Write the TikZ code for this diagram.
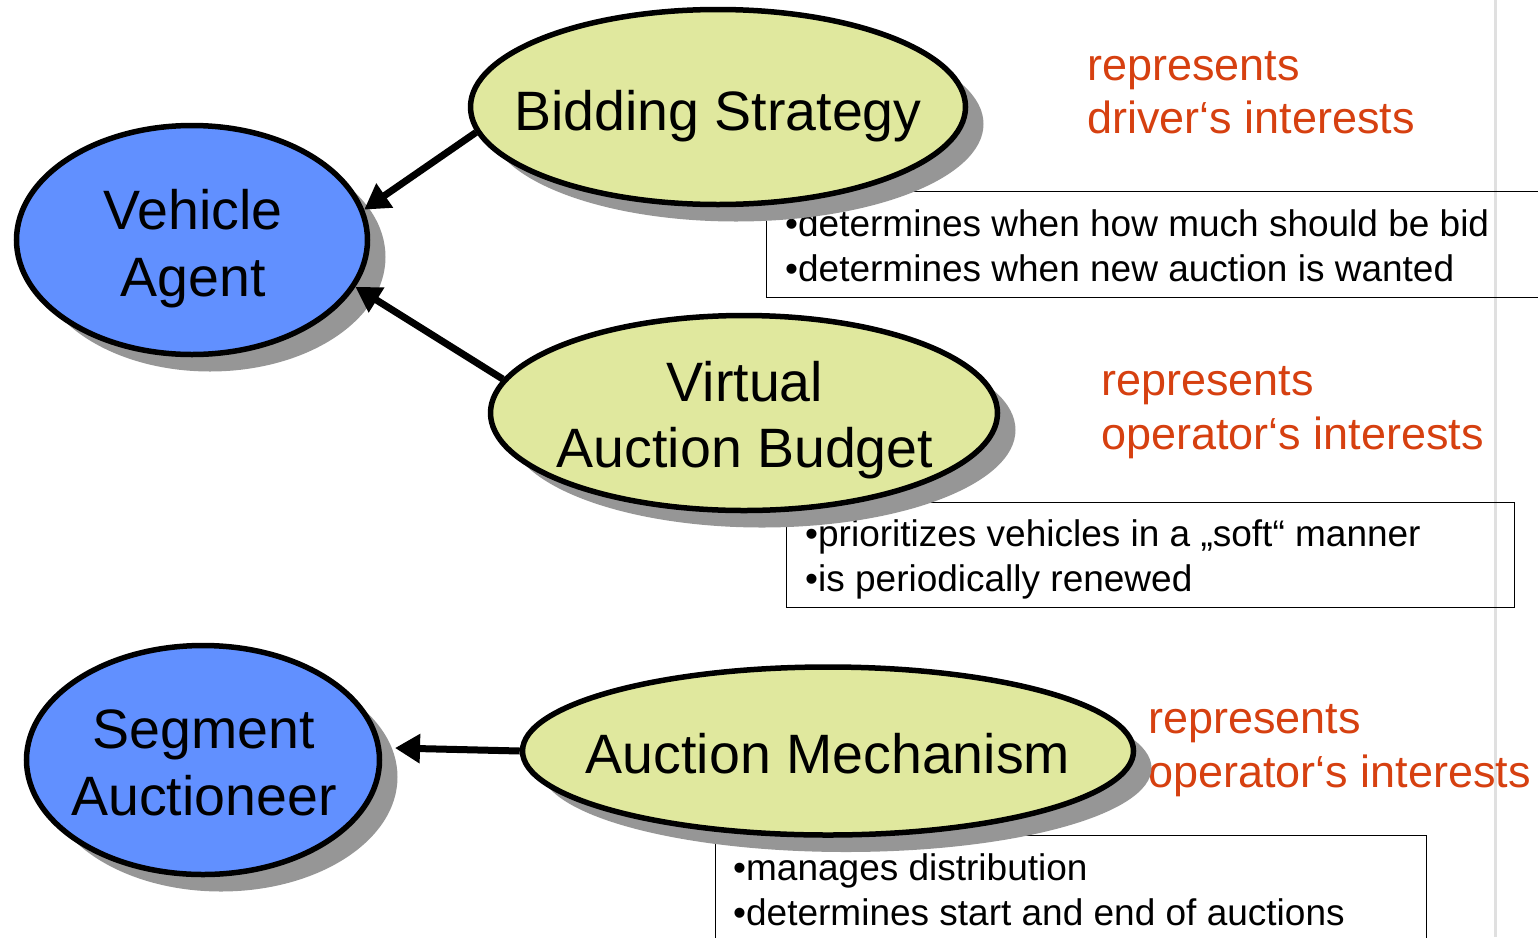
\documentclass[tikz,border=0pt]{standalone}
\usepackage{fontspec}
\setmainfont{Liberation Sans}
\usetikzlibrary{shapes.geometric,arrows.meta,shadows}
\definecolor{agentblue}{RGB}{97,144,255}
\definecolor{roleyellow}{RGB}{224,232,158}
\definecolor{shadowgray}{RGB}{150,150,150}
\definecolor{notered}{RGB}{214,64,16}
\definecolor{railgray}{RGB}{224,224,224}
\begin{document}
\begin{tikzpicture}[x=1pt,y=-1pt,
  blob/.style={ellipse, draw=black, line width=5.5pt, inner sep=0pt,
    general shadow={fill=shadowgray, shadow xshift=18pt, shadow yshift=-17pt}},
  agent/.style={blob, fill=agentblue},
  role/.style={blob, fill=roleyellow},
  blobtext/.style={anchor=base, inner sep=0pt, font=\fontsize{55.5}{67}\selectfont},
  notebox/.style={draw=black, line width=1.3pt, inner sep=0pt, anchor=north west},
  noteline/.style={anchor=base west, inner sep=0pt, font=\fontsize{37}{45}\selectfont},
  remark/.style={anchor=base west, inner sep=0pt, text=notered, font=\fontsize{45}{54}\selectfont},
  link/.style={line width=7pt, -{Triangle[length=25pt,width=28pt]}}]
\useasboundingbox (0,0) rectangle (1538,937);

% thin separator rule on the right
\coordinate (railtop) at (1495,0);
\coordinate (railbot) at (1495,937);
\draw[railgray, line width=3pt] (railtop) -- (railbot);

% note boxes
\node[notebox, minimum width=780pt, minimum height=106pt] (box1) at (766,191) {};
\node[notebox, minimum width=728pt, minimum height=105pt] (box2) at (786,502) {};
\node[notebox, minimum width=711pt, minimum height=115pt] (box3) at (715,835) {};

\node[noteline] (n11) at (785,236) {•determines when how much should be bid};
\node[noteline] (n12) at (785,281) {•determines when new auction is wanted};
\node[noteline] (n21) at (805,546) {•prioritizes vehicles in a „soft“ manner};
\node[noteline] (n22) at (805,591) {•is periodically renewed};
\node[noteline] (n31) at (733,880) {•manages distribution};
\node[noteline] (n32) at (733,925) {•determines start and end of auctions};

% red remarks
\node[remark] (r11) at (1087,80) {represents};
\node[remark] (r12) at (1087,133) {driver‘s interests};
\node[remark] (r21) at (1101,395) {represents};
\node[remark] (r22) at (1101,449) {operator‘s interests};
\node[remark] (r31) at (1148,733) {represents};
\node[remark] (r32) at (1148,787) {operator‘s interests};

% ellipses
\node[role, minimum width=495pt, minimum height=195pt] (bid) at (718,107) {};
\node[agent, minimum width=351pt, minimum height=229pt] (veh) at (192,240) {};
\node[role, minimum width=507pt, minimum height=195pt] (vab) at (744,413) {};
\node[agent, minimum width=353pt, minimum height=229pt] (seg) at (203,760) {};
\node[role, minimum width=611pt, minimum height=168pt] (mech) at (828,751) {};

\node[blobtext] (bidt) at (718,130) {Bidding Strategy};
\node[blobtext] (veht1) at (193,229) {Vehicle};
\node[blobtext] (veht2) at (193,296) {Agent};
\node[blobtext] (vabt1) at (745,401) {Virtual};
\node[blobtext] (vabt2) at (745,467) {Auction Budget};
\node[blobtext] (segt1) at (204,748) {Segment};
\node[blobtext] (segt2) at (204,815) {Auctioneer};
\node[blobtext] (mecht) at (828,773) {Auction Mechanism};

% connectors
\coordinate (segtip) at (395,748);
\draw[link] (bid.186) -- (veh.10);
\draw[link] (vab.172) -- (veh.344);
\draw[link] (mech.180) -- (segtip);
\end{tikzpicture}
\end{document}
